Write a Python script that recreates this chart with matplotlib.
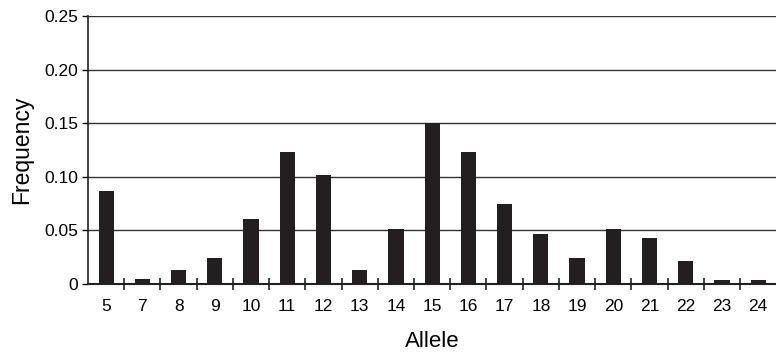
import matplotlib
matplotlib.use("Agg")
import matplotlib.pyplot as plt
import numpy as np

alleles = ["5", "7", "8", "9", "10", "11", "12", "13", "14", "15", "16", "17", "18", "19", "20", "21", "22", "23", "24"]
freqs = [0.087, 0.005, 0.013, 0.024, 0.061, 0.123, 0.102, 0.013, 0.051, 0.150, 0.123, 0.075, 0.047, 0.024, 0.051, 0.043, 0.021, 0.004, 0.004]
yticks = [0, 0.05, 0.10, 0.15, 0.20, 0.25]
ytick_labels = ["0", "0.05", "0.10", "0.15", "0.20", "0.25"]

plt.rcParams['font.family'] = ['Liberation Sans', 'DejaVu Sans']

fig = plt.figure(figsize=(7.76, 3.53), dpi=100)
ax = fig.add_axes([0.1134, 0.1955, 0.887, 0.7592])

x = np.arange(len(alleles))
ax.bar(x, freqs, width=0.42, color='#231f20', zorder=3)

ax.set_xlim(-0.5, len(alleles) - 0.5)
ax.set_ylim(0, 0.25)

ax.set_yticks(yticks)
ax.set_yticklabels(ytick_labels, fontsize=12.5)
ax.yaxis.grid(True, color='#333333', linewidth=1.0, zorder=0)

ax.set_xticks(x)
ax.set_xticklabels(alleles, fontsize=12.5)
ax.tick_params(axis='x', which='major', length=0, pad=11)
ax.set_xticks(np.arange(0.5, len(alleles) - 0.5, 1.0), minor=True)
ax.tick_params(axis='x', which='minor', length=9, direction='inout', width=1.2, color='#222222')
ax.tick_params(axis='y', length=4, width=1.0, pad=3)

for s in ['top', 'right']:
    ax.spines[s].set_visible(False)
ax.spines['left'].set_linewidth(1.2)
ax.spines['bottom'].set_linewidth(1.5)
ax.spines['left'].set_color('#222222')
ax.spines['bottom'].set_color('#222222')

ax.set_xlabel("Allele", fontsize=16, labelpad=12)
ax.set_ylabel("Frequency", fontsize=16.5, labelpad=8)

fig.savefig("out.png", dpi=100)
